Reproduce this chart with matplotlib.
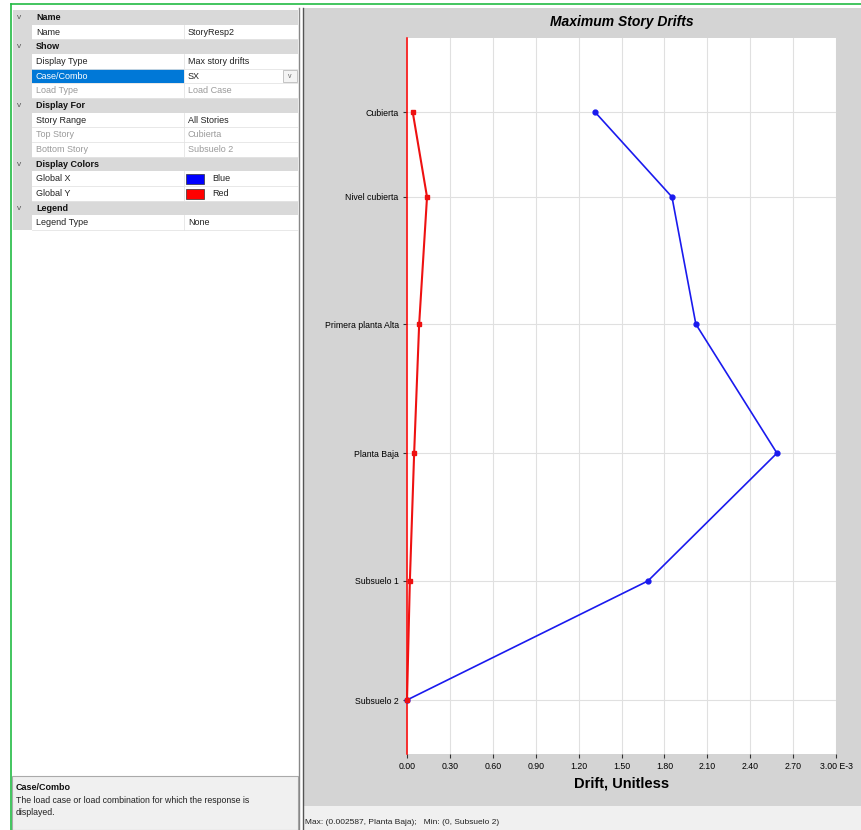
import matplotlib
matplotlib.use("Agg")
import matplotlib.pyplot as plt
from matplotlib.patches import Rectangle

plt.rcParams['font.family'] = ['Liberation Sans', 'DejaVu Sans']

# story data (drift values in E-3)
stories = ["Subsuelo 2", "Subsuelo 1", "Planta Baja", "Primera planta Alta", "Nivel cubierta", "Cubierta"]
elev = [0.0, 3.97, 8.23, 12.53, 16.77, 19.6]
drift_x = [0.0, 1.685, 2.587, 2.02, 1.853, 1.315]
drift_y = [0.0, 0.02, 0.05, 0.085, 0.14, 0.04]
xticks = [0.0, 0.3, 0.6, 0.9, 1.2, 1.5, 1.8, 2.1, 2.4, 2.7, 3.0]

# property grid rows: (kind, label, value)
rows = [
    ("h", "Name", ""),
    ("r", "Name", "StoryResp2"),
    ("h", "Show", ""),
    ("r", "Display Type", "Max story drifts"),
    ("s", "Case/Combo", "SX"),
    ("g", "Load Type", "Load Case"),
    ("h", "Display For", ""),
    ("r", "Story Range", "All Stories"),
    ("g", "Top Story", "Cubierta"),
    ("g", "Bottom Story", "Subsuelo 2"),
    ("h", "Display Colors", ""),
    ("c", "Global X", "Blue"),
    ("c", "Global Y", "Red"),
    ("h", "Legend", ""),
    ("r", "Legend Type", "None"),
]
swatch = {"Global X": "#0000ff", "Global Y": "#ff0000"}

W, H = 861, 830
fig = plt.figure(figsize=(W / 100, H / 100), dpi=100)
fig.patch.set_facecolor("white")

bg = fig.add_axes([0, 0, 1, 1])
bg.set_xlim(0, W)
bg.set_ylim(H, 0)
bg.axis("off")

# right panel background
bg.add_patch(Rectangle((303, 8), W - 303, 798, fc="#d4d4d4", ec="none"))
bg.plot([303, 303], [8, 830], color="#555555", lw=1)
bg.add_patch(Rectangle((303, 806), W - 303, 24, fc="#f0f0f0", ec="none"))
bg.text(305, 822, "Max: (0.002587, Planta Baja);   Min: (0, Subsuelo 2)",
        fontsize=6, va="center", color="#222222")

# left panel
bg.plot([11, W], [4, 4], color="#22bb44", lw=1.2)
bg.plot([11, 11], [4, 830], color="#22bb44", lw=1.2)
bg.plot([299, 299], [8, 830], color="#888888", lw=1)

rh = 14.67
top = 10
for i, (kind, label, value) in enumerate(rows):
    y0 = top + i * rh
    yc = y0 + rh / 2
    bg.add_patch(Rectangle((13, y0), 19, rh, fc="#d9d9d9", ec="none"))
    if kind == "h":
        bg.add_patch(Rectangle((13, y0), 285, rh, fc="#d9d9d9", ec="none"))
        bg.text(17, yc, "v", fontsize=6, va="center", color="#555555")
        bg.text(36, yc, label, fontsize=6.5, va="center", fontweight="bold", color="#111111")
        continue
    tcol = "#222222"
    if kind == "g":
        tcol = "#9a9a9a"
    if kind == "s":
        bg.add_patch(Rectangle((32, y0), 152, rh, fc="#0078d7", ec="none"))
        bg.text(36, yc, label, fontsize=6.5, va="center", color="white")
        bg.add_patch(Rectangle((283, y0 + 1.5), 14, rh - 3, fc="#f4f4f4", ec="#bbbbbb", lw=0.6))
        bg.text(290, yc, "v", fontsize=5, va="center", ha="center", color="#666666")
    else:
        bg.text(36, yc, label, fontsize=6.5, va="center", color=tcol)
    if kind == "c":
        bg.add_patch(Rectangle((186, y0 + 3), 18, rh - 5, fc=swatch[label], ec="#333333", lw=0.5))
        bg.text(212, yc, value, fontsize=6.5, va="center", color=tcol)
    else:
        bg.text(188, yc, value, fontsize=6.5, va="center", color=tcol)
    bg.plot([32, 298], [y0 + rh, y0 + rh], color="#e4e4e4", lw=0.6)
    bg.plot([184, 184], [y0, y0 + rh], color="#e4e4e4", lw=0.6)

# description box
bg.add_patch(Rectangle((12, 776), 286, 54, fc="#f0f0f0", ec="#aaaaaa", lw=0.8))
bg.text(16, 787, "Case/Combo", fontsize=6.5, va="center", fontweight="bold", color="#111111")
bg.text(16, 800, "The load case or load combination for which the response is",
        fontsize=6.3, va="center", color="#222222")
bg.text(16, 812, "displayed.", fontsize=6.3, va="center", color="#222222")

# chart
x0, x1, y_top, y_bot = 407, 836, 38, 754
ax = fig.add_axes([x0 / W, (H - y_bot) / H, (x1 - x0) / W, (y_bot - y_top) / H])
ax.set_facecolor("white")
ax.set_xlim(0, 3.0)
ax.set_ylim(-1.8, 22.07)

ax.set_xticks(xticks)
labels = ["%.2f" % v for v in xticks]
labels[-1] = "3.00 E-3"
ax.set_xticklabels(labels)
ax.set_yticks(elev)
ax.set_yticklabels(stories)
ax.grid(True, color="#e0e0e0", lw=0.8)
ax.set_axisbelow(True)
for s in ["top", "right", "bottom"]:
    ax.spines[s].set_visible(False)
ax.spines["left"].set_color("#ff0000")
ax.spines["left"].set_linewidth(1.1)
ax.tick_params(axis="both", length=3, width=0.8, color="#333333", labelsize=6.3, pad=3)

ax.plot(drift_x, elev, color="#1a1aee", lw=1.2, marker="o", ms=3.5, zorder=3, clip_on=False)
ax.plot(drift_y, elev, color="#ee1111", lw=1.5, marker="s", ms=3.3, zorder=4, clip_on=False)

ax.set_title("Maximum Story Drifts", fontsize=10, fontweight="bold", fontstyle="italic", pad=9)
ax.set_xlabel("Drift, Unitless", fontsize=10.5, fontweight="bold", labelpad=4)

fig.savefig("out.png", dpi=100)
